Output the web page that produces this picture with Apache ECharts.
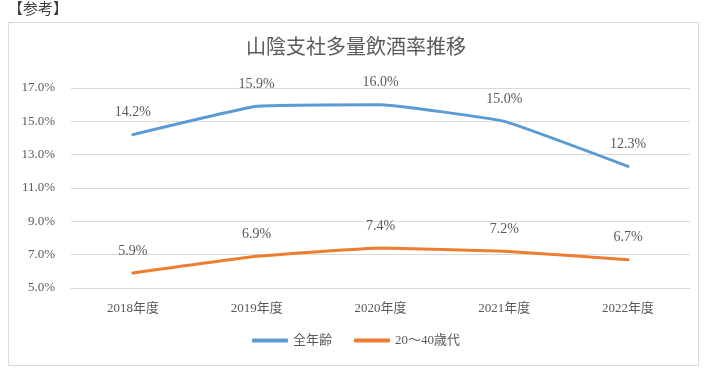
<!DOCTYPE html>
<html><head><meta charset="utf-8">
<script src="https://cdn.jsdelivr.net/npm/echarts@6/dist/echarts.min.js"></script>
<style>html,body{margin:0;padding:0;background:#fff}#c{width:712px;height:374px}</style>
</head><body><div id="c"></div>
<script>
const categories = ['2018年度','2019年度','2020年度','2021年度','2022年度'];
const allAges = [14.2, 15.9, 16.0, 15.0, 12.3];
const age20to40 = [5.9, 6.9, 7.4, 7.2, 6.7];
const seriesNames = ['全年齢','20～40歳代'];
const titleText = '山陰支社多量飲酒率推移';
const noteText = '【参考】';

const FONT = '"Liberation Serif","Noto Sans CJK JP",serif';
const chart = echarts.init(document.getElementById('c'));
const lbl = {show:true, position:'top', distance:14, color:'#595959', fontSize:14, fontFamily:FONT,
  formatter: p => p.value.toFixed(1) + '%'};
chart.setOption({
  animation:false,
  textStyle:{fontFamily:FONT},
  graphic:[
    {type:'rect', shape:{x:8.5,y:22.5,width:690,height:343}, style:{fill:'none',stroke:'#d9d9d9',lineWidth:1}, silent:true},
    {type:'text', left:8, top:3, style:{text:noteText, fontSize:15, fill:'#404040', fontFamily:FONT}}
  ],
  title:{text:titleText, left:'center', top:34, textStyle:{fontSize:20, fontWeight:'normal', color:'#595959', fontFamily:FONT}},
  legend:{bottom:22, itemWidth:36, itemHeight:4, itemGap:22, icon:'roundRect',
    textStyle:{color:'#595959', fontSize:13, fontFamily:FONT}, data:seriesNames},
  grid:{left:71, right:22, top:88, bottom:86},
  xAxis:{type:'category', data:categories, boundaryGap:true,
    axisLine:{show:true, lineStyle:{color:'#d9d9d9'}}, axisTick:{show:false},
    axisLabel:{color:'#595959', fontSize:13, margin:14, fontFamily:FONT}},
  yAxis:{type:'value', min:5, max:17, interval:2,
    axisLine:{show:false}, axisTick:{show:false},
    splitLine:{lineStyle:{color:'#d9d9d9'}},
    axisLabel:{color:'#595959', fontSize:13, margin:16, fontFamily:FONT, formatter:v=>v.toFixed(1)+'%'}},
  series:[
    {name:seriesNames[0], type:'line', data:allAges, smooth:0.1, symbol:'circle', symbolSize:2, showSymbol:true,
      lineStyle:{width:3, color:'#5b9bd5', cap:'round'}, itemStyle:{color:'#5b9bd5'}, label:lbl},
    {name:seriesNames[1], type:'line', data:age20to40, smooth:0.1, symbol:'circle', symbolSize:2, showSymbol:true,
      lineStyle:{width:3, color:'#ed7d31', cap:'round'}, itemStyle:{color:'#ed7d31'}, label:lbl}
  ]
});
</script></body></html>
